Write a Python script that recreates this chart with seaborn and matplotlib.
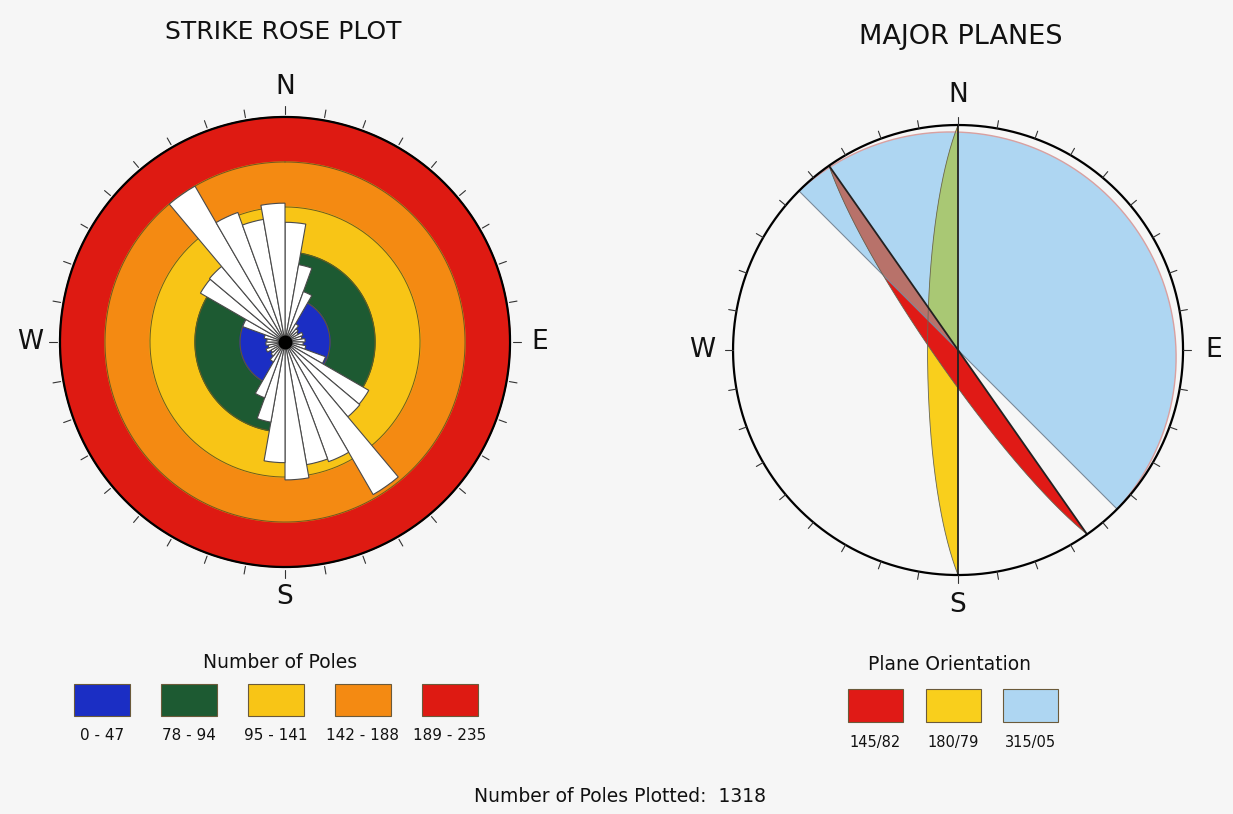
import numpy as np
import matplotlib
matplotlib.use("Agg")
import matplotlib.pyplot as plt
from matplotlib.patches import Rectangle, Polygon
import seaborn as sns

# strike rose, 10 degree bins (centre azimuths) and pole counts
bin_centres = np.arange(5, 360, 10)
pole_counts = [125, 82, 56, 22, 18, 16, 20, 18, 21, 19, 22, 45,
               101, 102, 184, 133, 130, 144, 126, 85, 62, 24, 19, 17,
               21, 18, 20, 19, 22, 47, 102, 103, 188, 144, 130, 145]

ring_labels = ["0 - 47", "78 - 94", "95 - 141", "142 - 188", "189 - 235"]
ring_tops = [47, 94, 141, 188, 235]
ring_colors = ["#1b2ec4", "#1d5a32", "#f8c516", "#f48a12", "#de1a12"]

# major planes (strike/dip, right hand rule)
plane_labels = ["145/82", "180/79", "315/05"]
plane_strikes = [145, 180, 315]
plane_dips = [82, 79, 5]
plane_colors = ["#e01a16", "#f9cf1c", "#aed6f2"]
overlap_colors = ["#b8726a", "#a9c874", None]

compass = ["N", "E", "S", "W"]
n_plotted = 1318

sns.set_theme(style="white")
plt.rcParams['font.family'] = ['DejaVu Sans']
BG = "#f6f6f6"

fig = plt.figure(figsize=(12.33, 8.14), dpi=100)
fig.patch.set_facecolor(BG)

# ---------- strike rose ----------
ax = fig.add_axes([0.0059, 0.2387, 0.4505, 0.6823], projection='polar')
ax.set_theta_zero_location('N')
ax.set_theta_direction(-1)
ax.set_ylim(0, 290)
ax.axis('off')

th = np.linspace(0, 2 * np.pi, 400)
for top, col in zip(ring_tops[::-1], ring_colors[::-1]):
    ax.fill(th, np.full_like(th, top), color=col, zorder=1)
    ax.plot(th, np.full_like(th, top), color="#6b5a20", lw=0.7, zorder=2)
ax.plot(th, np.full_like(th, ring_tops[-1]), color="black", lw=1.6, zorder=5)

ax.bar(np.radians(bin_centres), pole_counts, width=np.radians(10),
       color="white", edgecolor="#4a4a4a", linewidth=0.8, zorder=3)
ax.plot(0, 0, 'o', color="black", ms=9, zorder=4)

for a in range(0, 360, 10):
    ax.plot([np.radians(a)] * 2, [238, 246], color="#333333", lw=0.8,
            clip_on=False, zorder=5)
for i, lab in enumerate(compass):
    ax.text(np.radians(90 * i), 266, lab, ha='center', va='center',
            fontsize=19, color="#111111")

# ---------- major planes (equal-area, lower hemisphere) ----------
ax2 = fig.add_axes([0.558, 0.2383, 0.4380, 0.6634])
ax2.set_xlim(-1.2, 1.2)
ax2.set_ylim(-1.2, 1.2)
ax2.set_aspect('equal')
ax2.axis('off')


def great_circle(strike, dip, n=181):
    s = np.radians(strike)
    dd = s + np.pi / 2
    d = np.radians(dip)
    t = np.linspace(0, np.pi, n)
    sv = np.array([np.sin(s), np.cos(s), 0.0])
    dv = np.array([np.sin(dd) * np.cos(d), np.cos(dd) * np.cos(d), np.sin(d)])
    v = np.outer(np.cos(t), sv) + np.outer(np.sin(t), dv)
    plunge = np.arcsin(np.clip(v[:, 2], -1, 1))
    trend = np.arctan2(v[:, 0], v[:, 1])
    rho = np.sqrt(2) * np.sin((np.pi / 2 - plunge) / 2)
    return np.column_stack([rho * np.sin(trend), rho * np.cos(trend)])


circles = [great_circle(s, d) for s, d in zip(plane_strikes, plane_dips)]

# widest plane first, then clip the steep ones against it for the overlap tint
base = Polygon(circles[2], closed=True, fc=plane_colors[2], ec='none', zorder=1)
ax2.add_patch(base)
for k, z in [(1, 2), (0, 4)]:
    ax2.add_patch(Polygon(circles[k], closed=True, fc=plane_colors[k],
                          ec='none', zorder=z))
    over = Polygon(circles[k], closed=True, fc=overlap_colors[k], ec='none',
                   zorder=z + 1)
    ax2.add_patch(over)
    over.set_clip_path(base)

ax2.plot(circles[2][:, 0], circles[2][:, 1], color="#d9a0a0", lw=1.0, zorder=6)
ax2.plot(circles[2][[0, -1], 0], circles[2][[0, -1], 1], color="#7a8a9a",
         lw=0.8, zorder=6)
for k in [1, 0]:
    ax2.plot(circles[k][:, 0], circles[k][:, 1], color="#666655", lw=0.6,
             zorder=6)
    ax2.plot(circles[k][[0, -1], 0], circles[k][[0, -1], 1], color="#222222",
             lw=1.3, zorder=7)

ax2.plot(np.cos(th), np.sin(th), color="black", lw=1.6, zorder=8)
for a in range(0, 360, 10):
    r = np.radians(a)
    ax2.plot([np.sin(r), 1.035 * np.sin(r)], [np.cos(r), 1.035 * np.cos(r)],
             color="#333333", lw=0.8, zorder=8)
for i, lab in enumerate(compass):
    r = np.radians(90 * i)
    ax2.text(1.135 * np.sin(r), 1.135 * np.cos(r), lab, ha='center',
             va='center', fontsize=19, color="#111111")

# ---------- titles and legends (pixel overlay) ----------
ov = fig.add_axes([0, 0, 1, 1])
ov.set_xlim(0, 1233)
ov.set_ylim(814, 0)
ov.axis('off')
ov.patch.set_alpha(0)

ov.text(283, 32, "STRIKE ROSE PLOT", ha='center', va='center', fontsize=18,
        color="#111111")
ov.text(961, 37, "MAJOR PLANES", ha='center', va='center', fontsize=19.5,
        color="#111111")

ov.text(280, 662, "Number of Poles", ha='center', va='center', fontsize=13.5,
        color="#111111")
for i, (lab, col) in enumerate(zip(ring_labels, ring_colors)):
    x0 = 74 + 87 * i
    ov.add_patch(Rectangle((x0, 684), 56, 32, fc=col, ec="#6b5a3a", lw=0.8))
    ov.text(x0 + 28, 736, lab, ha='center', va='center', fontsize=11,
            color="#111111")

ov.text(950, 665, "Plane Orientation", ha='center', va='center',
        fontsize=13.5, color="#111111")
for i, (lab, col) in enumerate(zip(plane_labels, plane_colors)):
    x0 = 848 + 77.5 * i
    ov.add_patch(Rectangle((x0, 689), 55, 33, fc=col, ec="#6b5a3a", lw=0.8))
    ov.text(x0 + 27.5, 743, lab, ha='center', va='center', fontsize=10.5,
            color="#111111")

ov.text(620, 797, f"Number of Poles Plotted:  {n_plotted}", ha='center',
        va='center', fontsize=13.5, color="#111111")

fig.savefig("out.png", dpi=100, facecolor=BG)
